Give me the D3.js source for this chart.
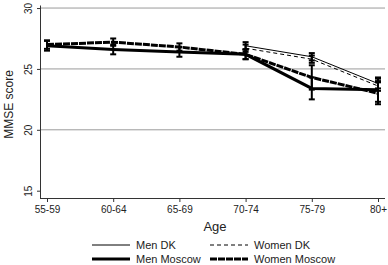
<!DOCTYPE html>
<html>
<head>
<meta charset="utf-8">
<script src="https://cdn.jsdelivr.net/npm/d3@7"></script>
<style>
  body { margin: 0; background: #fff; }
  text { font-family: "Liberation Sans", Arial, sans-serif; fill: #222; }
</style>
</head>
<body>
<svg id="chart" width="388" height="265"></svg>
<script>
var ages = ["55-59", "60-64", "65-69", "70-74", "75-79", "80+"];
var yTicks = [15, 20, 25, 30];
var gridTicks = [20, 25, 30];

// DK only from 70-74 onwards (null = no value)
var menDK = [null, null, null, 26.9, 26.0, 23.8];
var menDKErr = [null, null, null, 0.3, 0.3, 0.4];
var womenDK = [null, null, null, 26.7, 25.8, 23.6];
var womenDKErr = [null, null, null, 0.3, 0.3, 0.4];
var menMoscow = [26.9, 26.6, 26.4, 26.2, 23.4, 23.3];
var menMoscowErr = [0.4, 0.4, 0.4, 0.4, 0.9, 1.0];
var womenMoscow = [27.0, 27.2, 26.8, 26.2, 24.3, 23.0];
var womenMoscowErr = [0.35, 0.3, 0.3, 0.4, 1.0, 0.9];

var series = [
  {name: "Men DK", vals: menDK, err: menDKErr, width: 1, dash: null},
  {name: "Women DK", vals: womenDK, err: womenDKErr, width: 1, dash: "4,3"},
  {name: "Men Moscow", vals: menMoscow, err: menMoscowErr, width: 3, dash: null},
  {name: "Women Moscow", vals: womenMoscow, err: womenMoscowErr, width: 3, dash: "7,1"}
];

var svg = d3.select("#chart");
var margin = {left: 40, right: 385, top: 5, bottom: 198};

var x = d3.scalePoint().domain(ages).range([47, 378]);
var y = d3.scaleLinear().domain([14.4, 30.25]).range([margin.bottom, margin.top]);

// gridlines
svg.append("g").selectAll("line").data(gridTicks).enter().append("line")
  .attr("x1", margin.left).attr("x2", margin.right)
  .attr("y1", d => y(d)).attr("y2", d => y(d))
  .attr("stroke", "#9a9a9a").attr("stroke-width", 1);

// axes
var yAxis = svg.append("g").attr("transform", `translate(${margin.left},0)`)
  .call(d3.axisLeft(y).tickValues(yTicks).tickSize(3).tickSizeOuter(0));
yAxis.select(".domain").attr("stroke", "#333");
yAxis.selectAll(".tick line").attr("stroke", "#333");
yAxis.selectAll(".tick text")
  .attr("x", null).attr("dy", null)
  .attr("transform", "translate(-8,0) rotate(-90)")
  .attr("text-anchor", "middle")
  .style("font-size", "10px");

var xAxis = svg.append("g").attr("transform", `translate(0,${margin.bottom})`)
  .call(d3.axisBottom(x).tickSize(4).tickSizeOuter(0));
xAxis.select(".domain").attr("d", `M${margin.left},0.5H${margin.right}`).attr("stroke", "#333");
xAxis.selectAll(".tick line").attr("stroke", "#333");
xAxis.selectAll(".tick text").attr("y", 8).style("font-size", "10px");

svg.append("text")
  .attr("transform", `translate(13,${(y(15) + y(30)) / 2 + 5}) rotate(-90)`)
  .attr("text-anchor", "middle").style("font-size", "12px").text("MMSE score");
svg.append("text")
  .attr("x", 215).attr("y", 231)
  .attr("text-anchor", "middle").style("font-size", "13px").text("Age");

// lines
var line = d3.line()
  .defined(d => d != null)
  .x((d, i) => x(ages[i]))
  .y(d => y(d));

series.forEach(function(s) {
  svg.append("path")
    .attr("d", line(s.vals))
    .attr("fill", "none")
    .attr("stroke", "#000")
    .attr("stroke-width", s.width)
    .attr("stroke-dasharray", s.dash);
});

// error bars
series.forEach(function(s) {
  var pts = s.vals.map((v, i) => ({v: v, e: s.err[i], a: ages[i]})).filter(d => d.v != null);
  var g = svg.append("g").attr("stroke", "#000").attr("stroke-width", 2);
  g.selectAll(".bar").data(pts).enter().append("line")
    .attr("x1", d => x(d.a)).attr("x2", d => x(d.a))
    .attr("y1", d => y(d.v + d.e)).attr("y2", d => y(d.v - d.e));
  g.selectAll(".capT").data(pts).enter().append("line")
    .attr("x1", d => x(d.a) - 3).attr("x2", d => x(d.a) + 3)
    .attr("y1", d => y(d.v + d.e)).attr("y2", d => y(d.v + d.e));
  g.selectAll(".capB").data(pts).enter().append("line")
    .attr("x1", d => x(d.a) - 3).attr("x2", d => x(d.a) + 3)
    .attr("y1", d => y(d.v - d.e)).attr("y2", d => y(d.v - d.e));
});

// legend
var legPos = [[92, 245], [210, 245], [92, 259], [210, 259]];
series.forEach(function(s, i) {
  var p = legPos[i];
  svg.append("line")
    .attr("x1", p[0]).attr("x2", p[0] + 38)
    .attr("y1", p[1]).attr("y2", p[1])
    .attr("stroke", "#000").attr("stroke-width", s.width)
    .attr("stroke-dasharray", s.dash);
  svg.append("text")
    .attr("x", p[0] + 44).attr("y", p[1] + 4)
    .style("font-size", "11px").text(s.name);
});
</script>
</body>
</html>
